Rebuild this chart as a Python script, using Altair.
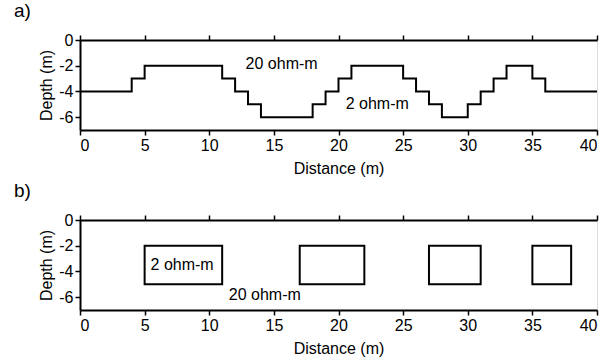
import altair as alt
import pandas as pd

# Panel a: stepped interface (step-after)
step_x = [0, 4, 5, 11, 12, 13, 14, 18, 19, 20, 21, 25, 26, 27, 28, 30, 31, 32, 33, 35, 36, 40]
step_depth = [-4, -3, -2, -3, -4, -5, -6, -5, -4, -3, -2, -3, -4, -5, -6, -5, -4, -3, -2, -3, -4, -4]

a_label_text = ["20 ohm-m", "2 ohm-m"]
a_label_x = [15.6, 23.0]
a_label_y = [-1.9, -5.0]

# Panel b: rectangular blocks
box_x1 = [5, 17, 27, 35]
box_x2 = [11, 22, 31, 38]
box_top = [-2, -2, -2, -2]
box_bottom = [-5, -5, -5, -5]

b_label_text = ["2 ohm-m", "20 ohm-m"]
b_label_x = [7.9, 14.3]
b_label_y = [-3.5, -5.85]

x_ticks = [0, 5, 10, 15, 20, 25, 30, 35, 40]
y_ticks = [0, -2, -4, -6]

FONT = "Liberation Sans"
W, H = 517, 90

xscale = alt.Scale(domain=[0, 40], nice=False, zero=False)
yscale = alt.Scale(domain=[-7, 0], nice=False, zero=False)

x_bottom = alt.Axis(orient="bottom", values=x_ticks, title="Distance (m)", grid=False,
                    tickSize=5, tickWidth=1.5, tickColor="black", domainColor="black",
                    domainWidth=2, labelFontSize=16, labelColor="black", labelPadding=2,
                    titleFontSize=16, titleColor="black", titleFontWeight="normal",
                    titlePadding=7, labelFont=FONT, titleFont=FONT)
x_top = alt.Axis(orient="top", values=x_ticks, title="", labels=False, grid=False,
                 tickSize=5, tickWidth=1.5, tickColor="black", domainColor="black",
                 domainWidth=2)
y_axis = alt.Axis(values=y_ticks, title="Depth (m)", grid=False,
                  labelExpr="toString(datum.value)",
                  tickSize=5, tickWidth=1.5, tickColor="black", domainColor="black",
                  domainWidth=2, labelFontSize=16, labelColor="black", labelPadding=2,
                  titleFontSize=16, titleColor="black", titleFontWeight="normal",
                  titlePadding=4, labelFont=FONT, titleFont=FONT)


def panel_title(t):
    return alt.TitleParams(text=t, anchor="start", frame="group", dx=-66, offset=11,
                           fontSize=19, fontWeight="normal", font=FONT, color="black")


step_df = pd.DataFrame({"x": step_x, "depth": step_depth})
a_lab = pd.DataFrame({"x": a_label_x, "y": a_label_y, "label": a_label_text})

line = alt.Chart(step_df).mark_line(interpolate="step-after", color="black", strokeWidth=2).encode(
    x=alt.X("x:Q", scale=xscale, axis=x_bottom),
    y=alt.Y("depth:Q", scale=yscale, axis=y_axis),
)
a_text = alt.Chart(a_lab).mark_text(fontSize=16, font=FONT, color="black").encode(
    x=alt.X("x:Q", scale=xscale, axis=x_top),
    y=alt.Y("y:Q", scale=yscale, axis=y_axis),
    text="label:N",
)
panel_a = alt.layer(line, a_text).resolve_axis(x="independent").properties(
    width=W, height=H, title=panel_title("a)"))

box_df = pd.DataFrame({"x1": box_x1, "x2": box_x2, "top": box_top, "bottom": box_bottom})
b_lab = pd.DataFrame({"x": b_label_x, "y": b_label_y, "label": b_label_text})

boxes = alt.Chart(box_df).mark_rect(filled=False, stroke="black", strokeWidth=2).encode(
    x=alt.X("x1:Q", scale=xscale, axis=x_bottom),
    x2="x2:Q",
    y=alt.Y("top:Q", scale=yscale, axis=y_axis),
    y2="bottom:Q",
)
b_text = alt.Chart(b_lab).mark_text(fontSize=16, font=FONT, color="black").encode(
    x=alt.X("x:Q", scale=xscale, axis=x_top),
    y=alt.Y("y:Q", scale=yscale, axis=y_axis),
    text="label:N",
)
panel_b = alt.layer(boxes, b_text).resolve_axis(x="independent").properties(
    width=W, height=H, title=panel_title("b)"))

chart = alt.vconcat(panel_a, panel_b, spacing=4).properties(
    padding={"left": 13, "top": 1, "right": 0, "bottom": 0}
).configure_view(stroke="black", strokeWidth=2).configure(font=FONT, background="white")

chart.save("out.html", embed_options={"renderer": "svg", "actions": False})
